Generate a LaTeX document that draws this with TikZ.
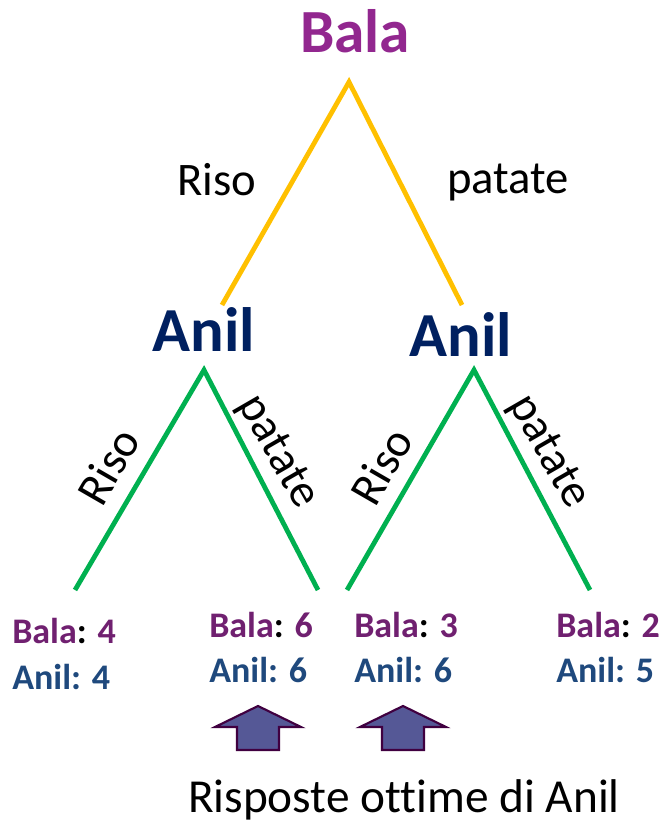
\documentclass[tikz,border=0pt]{standalone}
\usepackage{fontspec}
\setmainfont{Carlito}[Ligatures=NoCommon]
\definecolor{balapurple}{RGB}{146,39,143}
\definecolor{payoffpurple}{RGB}{112,32,112}
\definecolor{anilnavy}{RGB}{0,32,96}
\definecolor{payoffblue}{RGB}{31,73,125}
\definecolor{branchyellow}{RGB}{255,192,0}
\definecolor{branchgreen}{RGB}{0,176,80}
\definecolor{arrowfill}{RGB}{85,88,150}
\definecolor{arrowedge}{RGB}{64,0,64}

\begin{document}
\begin{tikzpicture}[x=0.75pt,y=-0.75pt]
		\useasboundingbox (0,0) rectangle (661,822);

		% players
		\begin{scope}[every node/.style={inner sep=0pt,font=\bfseries}]
			\node[balapurple,font=\fontsize{46}{50}\selectfont\bfseries] (bala) at (355,31) {Bala};
			\node[anilnavy,font=\fontsize{47}{52}\selectfont\bfseries] (anilL) at (204,330) {Anil};
			\node[anilnavy,font=\fontsize{47}{52}\selectfont\bfseries] (anilR) at (461,335) {Anil};
		\end{scope}

		% branch ends
		\coordinate (top) at (349,82);
		\coordinate (topL) at (222,305);
		\coordinate (topR) at (462,305);
		\coordinate (midL) at (204,370);
		\coordinate (midR) at (474,370);
		\coordinate (leafA) at (75,590);
		\coordinate (leafB) at (318,590);
		\coordinate (leafC) at (347,590);
		\coordinate (leafD) at (590,590);

		\begin{scope}[line width=3.6pt]
			\path[draw=branchyellow] (topL) -- (top) -- (topR);
			\path[draw=branchgreen] (leafA) -- (midL) -- (leafB);
			\path[draw=branchgreen] (leafC) -- (midR) -- (leafD);
		\end{scope}

		% moves
		\begin{scope}[every node/.style={inner sep=0pt,font=\fontsize{35}{40}\selectfont}]
			\node (risoB) at (217,180) {Riso};
			\node (patateB) at (508,182) {patate};
			\node[rotate=60] (risoL) at (108,466) {Riso};
			\node[rotate=-60] (patateL) at (277,452) {patate};
			\node[rotate=60] (risoR) at (381,466) {Riso};
			\node[rotate=-60] (patateR) at (548,452) {patate};
		\end{scope}

		% payoffs
		\begin{scope}[every node/.style={inner sep=0pt,anchor=base west,font=\fontsize{27}{30}\selectfont\bfseries}]
			\node (pa1) at (12,643) {\textcolor{payoffpurple}{Bala}: \textcolor{payoffpurple}{4}};
			\node[payoffblue] (pa2) at (12,689) {Anil: 4};
			\node (pb1) at (209,637) {\textcolor{payoffpurple}{Bala}: \textcolor{payoffpurple}{6}};
			\node[payoffblue] (pb2) at (209,682) {Anil: 6};
			\node (pc1) at (354,637) {\textcolor{payoffpurple}{Bala}: \textcolor{payoffpurple}{3}};
			\node[payoffblue] (pc2) at (354,682) {Anil: 6};
			\node (pd1) at (556,637) {\textcolor{payoffpurple}{Bala}: \textcolor{payoffpurple}{2}};
			\node[payoffblue] (pd2) at (556,682) {Anil: 5};
		\end{scope}

		% best replies
		\foreach \cx in {258,403}
			\draw[arrowedge,fill=arrowfill,line width=1.6pt,line join=miter]
				(\cx,706) -- (\cx+43,727) -- (\cx+21,727) -- (\cx+21,750)
				-- (\cx-21,750) -- (\cx-21,727) -- (\cx-43,727) -- cycle;
		\node[inner sep=0pt,font=\fontsize{35.5}{40}\selectfont] (best) at (404,800) {Risposte ottime di Anil};
	\end{tikzpicture}
\end{document}
